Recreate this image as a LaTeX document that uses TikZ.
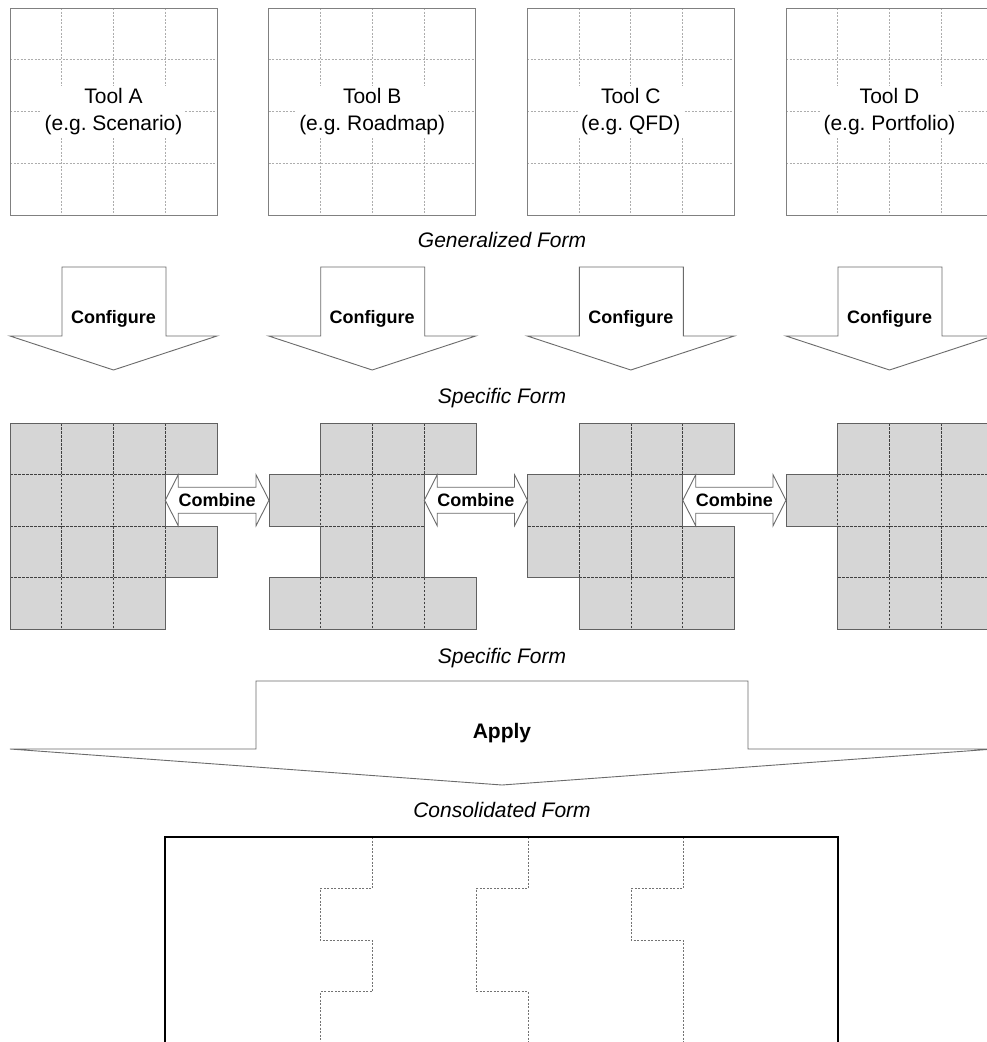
\documentclass[tikz,border=0pt]{standalone}
\usepackage{fontspec}
\setmainfont{Liberation Sans}
\usetikzlibrary{calc}
\begin{document}
\begin{tikzpicture}[x=1pt,y=-1pt,line join=miter,
  toolframe/.style={draw=black!50,line width=0.9pt},
  toolgrid/.style={draw=black!32,dash pattern=on 2pt off 1.5pt,line width=0.7pt},
  toollabel/.style={fill=white,inner sep=3pt,align=center,font=\fontsize{21}{27}\selectfont},
  cfgarrow/.style={draw=black!58,fill=white,line width=0.9pt},
  cfglabel/.style={font=\fontsize{18}{20}\selectfont\bfseries,inner sep=1pt},
  shapefill/.style={fill=black!16},
  shapecell/.style={draw=black!75,dash pattern=on 2.5pt off 1.5pt,line width=0.7pt},
  shapeedge/.style={draw=black!62,line width=0.9pt},
  combarrow/.style={draw=black!58,fill=white,line width=0.9pt},
  comblabel/.style={font=\fontsize{18}{20}\selectfont\bfseries,inner sep=1pt},
  formlabel/.style={font=\fontsize{21}{23}\selectfont\itshape,inner sep=1pt},
  applyarrow/.style={draw=black!58,fill=white,line width=0.9pt},
  applylabel/.style={font=\fontsize{21}{23}\selectfont\bfseries,inner sep=1pt},
  consframe/.style={draw=black,line width=2.4pt},
  consseam/.style={draw=black!55,dash pattern=on 2pt off 1.5pt,line width=0.7pt}]
\useasboundingbox (0,0) rectangle (987,1042);
\fill[white] (0,0) rectangle (987,1042);

% generalized tool templates with their configure arrows
\foreach \x/\n/\t/\e in {10/A/Tool A/Scenario, 268.7/B/Tool B/Roadmap, 527.3/C/Tool C/QFD, 786/D/Tool D/Portfolio} {
  \begin{scope}[xshift=\x pt,yshift=-8pt]
    \foreach \k in {1,2,3} {
      \draw[toolgrid] (\k*51.75,0) -- (\k*51.75,207);
      \draw[toolgrid] (0,\k*51.75) -- (207,\k*51.75);
    }
    \draw[toolframe] (0,0) rectangle (207,207);
    \node[toollabel] (tool\n) at (103.5,104) {\t\\(e.g.\ \e)};
    \draw[cfgarrow] (52,259) -- (156,259) -- (156,328) -- (207,328)
      -- (103.5,362) -- (0,328) -- (52,328) -- cycle;
    \node[cfglabel] (cfg\n) at (103.5,311) {Configure};
  \end{scope}
}

\node[formlabel] (generalized) at (502,240) {Generalized Form};
\node[formlabel] (specific1) at (502,398) {Specific Form};

% configured (specific) forms
\begin{scope}[xshift=10pt,yshift=-423pt,x=51.75pt,y=-51.5pt]
  \fill[shapefill] (0,0) -- (4,0) -- (4,1) -- (3,1) -- (3,2) -- (4,2) -- (4,3) -- (3,3) -- (3,4) -- (0,4) -- cycle;
  \foreach \c/\r in {0/0,1/0,2/0,3/0,0/1,1/1,2/1,0/2,1/2,2/2,3/2,0/3,1/3,2/3}
    \draw[shapecell] (\c,\r) rectangle ++(1,1);
  \draw[shapeedge] (0,0) -- (4,0) -- (4,1) -- (3,1) -- (3,2) -- (4,2) -- (4,3) -- (3,3) -- (3,4) -- (0,4) -- cycle;
  \coordinate (aR) at (3,1.5);
\end{scope}

\begin{scope}[xshift=269pt,yshift=-423pt,x=51.75pt,y=-51.5pt]
  \fill[shapefill] (1,0) -- (4,0) -- (4,1) -- (3,1) -- (3,3) -- (4,3) -- (4,4) -- (0,4) -- (0,3) -- (1,3) -- (1,2) -- (0,2) -- (0,1) -- (1,1) -- cycle;
  \foreach \c/\r in {1/0,2/0,3/0,0/1,1/1,2/1,1/2,2/2,0/3,1/3,2/3,3/3}
    \draw[shapecell] (\c,\r) rectangle ++(1,1);
  \draw[shapeedge] (1,0) -- (4,0) -- (4,1) -- (3,1) -- (3,3) -- (4,3) -- (4,4) -- (0,4) -- (0,3) -- (1,3) -- (1,2) -- (0,2) -- (0,1) -- (1,1) -- cycle;
  \coordinate (bL) at (0,1.5);
  \coordinate (bR) at (3,1.5);
\end{scope}

\begin{scope}[xshift=527.5pt,yshift=-423pt,x=51.75pt,y=-51.5pt]
  \fill[shapefill] (1,0) -- (4,0) -- (4,1) -- (3,1) -- (3,2) -- (4,2) -- (4,4) -- (1,4) -- (1,3) -- (0,3) -- (0,1) -- (1,1) -- cycle;
  \foreach \c/\r in {1/0,2/0,3/0,0/1,1/1,2/1,0/2,1/2,2/2,3/2,1/3,2/3,3/3}
    \draw[shapecell] (\c,\r) rectangle ++(1,1);
  \draw[shapeedge] (1,0) -- (4,0) -- (4,1) -- (3,1) -- (3,2) -- (4,2) -- (4,4) -- (1,4) -- (1,3) -- (0,3) -- (0,1) -- (1,1) -- cycle;
  \coordinate (cL) at (0,1.5);
  \coordinate (cR) at (3,1.5);
\end{scope}

\begin{scope}[xshift=786pt,yshift=-423pt,x=51.75pt,y=-51.5pt]
  \fill[shapefill] (1,0) -- (4,0) -- (4,4) -- (1,4) -- (1,2) -- (0,2) -- (0,1) -- (1,1) -- cycle;
  \foreach \c/\r in {1/0,2/0,3/0,0/1,1/1,2/1,3/1,1/2,2/2,3/2,1/3,2/3,3/3}
    \draw[shapecell] (\c,\r) rectangle ++(1,1);
  \draw[shapeedge] (1,0) -- (4,0) -- (4,4) -- (1,4) -- (1,2) -- (0,2) -- (0,1) -- (1,1) -- cycle;
  \coordinate (dL) at (0,1.5);
\end{scope}

% double-headed combine arrows between neighbouring forms
\foreach \ua/\ub/\m in {aR/bL/1, bR/cL/2, cR/dL/3} {
  \draw[combarrow] let \p1=(\ua), \p2=(\ub) in
    (\x1,\y1) -- (\x1+13pt,\y1+25.5pt) -- (\x1+13pt,\y1+13pt) -- (\x2-13pt,\y1+13pt)
    -- (\x2-13pt,\y1+25.5pt) -- (\x2,\y1) -- (\x2-13pt,\y1-25.5pt) -- (\x2-13pt,\y1-13pt)
    -- (\x1+13pt,\y1-13pt) -- (\x1+13pt,\y1-25.5pt) -- cycle;
  \node[comblabel] (comb\m) at ($(\ua)!0.5!(\ub)$) {Combine};
}

\node[formlabel] (specific2) at (502,658) {Specific Form};

% apply arrow
\draw[applyarrow] (256,681) -- (748,681) -- (748,749) -- (994,749) -- (502,785)
  -- (10,749) -- (256,749) -- cycle;
\node[applylabel] (apply) at (502,733) {Apply};

\node[formlabel] (consolidated) at (502,810) {Consolidated Form};

% consolidated form with the seams of the combined pieces
\draw[consseam] (372,837) -- (372,888.5) -- (320,888.5) -- (320,940) -- (372,940)
  -- (372,991.5) -- (320,991.5) -- (320,1046);
\draw[consseam] (528,837) -- (528,888.5) -- (476,888.5) -- (476,991.5) -- (528,991.5) -- (528,1046);
\draw[consseam] (683,837) -- (683,888.5) -- (631,888.5) -- (631,940) -- (683,940) -- (683,1046);
\draw[consframe] (165,837) rectangle (838,1046);
\end{tikzpicture}
\end{document}
